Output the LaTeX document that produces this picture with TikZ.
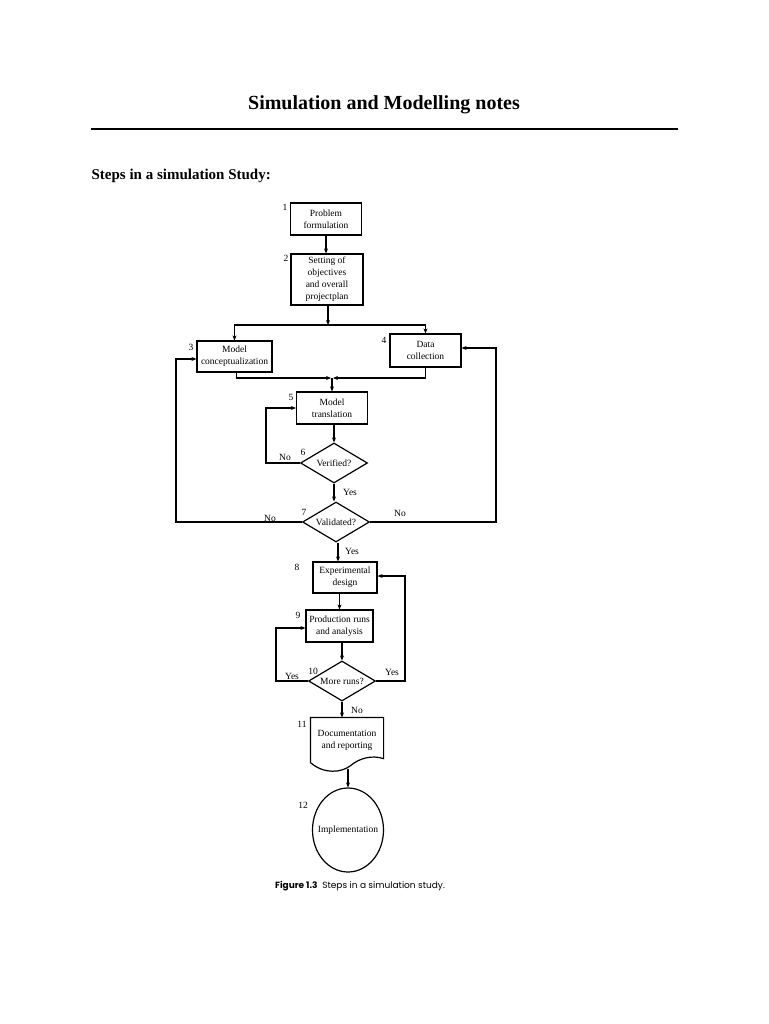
\documentclass[tikz,border=0pt]{standalone}
\usepackage{fontspec}
\setmainfont{Liberation Serif}
\newfontfamily\capfont{Poppins}
\usetikzlibrary{shapes.geometric,arrows.meta,calc}
\begin{document}
\begin{tikzpicture}[x=1pt,y=-1pt,
  line width=1.2pt,
  box/.style={draw,rectangle,inner sep=1pt,align=center,font=\fontsize{9.5}{12}\selectfont},
  dia/.style={draw,diamond,aspect=1.67,inner sep=0pt,minimum width=67pt,minimum height=40pt,font=\fontsize{9.5}{12}\selectfont},
  num/.style={font=\fontsize{9.5}{10}\selectfont,inner sep=0pt},
  lab/.style={font=\fontsize{9.5}{10}\selectfont,inner sep=0pt},
  arr/.style={-{Stealth[length=5pt,width=4pt]}}]
\useasboundingbox (0,0) rectangle (768,1024);
\fill[white] (0,0) rectangle (768,1024);
% header
\node[font=\fontsize{20}{22}\selectfont\bfseries] (title) at (384,105) {Simulation and Modelling notes};
\coordinate (rl) at (91,129);
\coordinate (rr) at (678,129);
\draw[line width=1.2pt] (rl) -- (rr);
\node[font=\fontsize{15}{17}\selectfont\bfseries,anchor=west,inner sep=0pt] (sub) at (91,176) {Steps in a simulation Study:};
% boxes
\node[box,minimum width=71pt,minimum height=32pt] (b1) at (326,219) {Problem\\formulation};
\node[box,minimum width=72pt,minimum height=51pt] (b2) at (327,279.5) {Setting of\\objectives\\and overall\\projectplan};
\node[box,minimum width=75pt,minimum height=31pt] (b3) at (234.5,356.5) {Model\\conceptualization};
\node[box,minimum width=71pt,minimum height=33pt] (b4) at (425.5,350.5) {Data\\collection};
\node[box,minimum width=71pt,minimum height=32pt] (b5) at (332,408) {Model\\translation};
\node[dia] (d6) at (334,463) {Verified?};
\node[dia] (d7) at (336,522) {Validated?};
\node[box,minimum width=64pt,minimum height=31pt] (b8) at (345,577.5) {Experimental\\design};
\node[box,minimum width=67pt,minimum height=32pt] (b9) at (339.5,626) {Production runs\\and analysis};
\node[dia] (d10) at (342,681) {More runs?};
\node[box,draw=none,minimum width=72pt,minimum height=44pt] (d11) at (347,740) {Documentation\\and reporting};
\draw (d11.south west) -- (d11.north west) -- (d11.north east) -- ($(d11.south east)+(0,-4)$)
  .. controls ($(d11.south east)+(-12,-8)$) and ($(d11.south east)+(-25,-4)$) .. ($(d11.south east)+(-33,3)$)
  .. controls ($(d11.south east)+(-42,10)$) and ($(d11.south west)+(14,12)$) .. (d11.south west);
\node[draw,ellipse,minimum width=71pt,minimum height=84pt,inner sep=0pt] (c12) at (348,830) {};
\node[font=\fontsize{9.5}{12}\selectfont,inner sep=0pt] (t12) at (c12.center) {Implementation};
% numbers
\node[num] (n1) at (285,207) {1};
\node[num] (n2) at (286,258) {2};
\node[num] (n3) at (191,347) {3};
\node[num] (n4) at (384,340) {4};
\node[num] (n5) at (291,397) {5};
\node[num] (n6) at (303,452) {6};
\node[num] (n7) at (304,512) {7};
\node[num] (n8) at (297,567) {8};
\node[num] (n9) at (298,615) {9};
\node[num] (n10) at (313,671) {10};
\node[num] (n11) at (302,724) {11};
\node[num] (n12) at (303,805) {12};
% connectors
\draw[arr] (b1.south) -- (b1.south |- b2.north);
\coordinate (j1) at (328,325);
\draw[arr] (b2.south -| j1) -- (j1);
\draw[arr] (j1) -| (b3.north);
\draw[arr] (j1) -| (b4.north);
\coordinate (j2) at (332,378);
\draw[arr] ([xshift=2pt]b3.south) |- ([xshift=-1pt]j2);
\draw[arr] (b4.south) |- ([xshift=1pt]j2);
\draw[arr] (j2) -- (b5.north);
\draw[arr] (b5.south -| d6.north) -- (d6.north);
\coordinate (l6) at (266,408);
\draw[arr] (d6.west) -| (l6) -- (b5.west);
\node[lab] (no6) at (285,457) {No};
\draw[arr] (d6.south) -- (d6.south |- d7.north);
\node[lab] (yes6) at (350,492) {Yes};
\coordinate (l7) at (176,359);
\draw[arr] (d7.west) -| (l7) -- (l7 -| b3.west);
\node[lab] (no7l) at (270,518) {No};
\coordinate (r7) at (496,348);
\draw[arr] (d7.east) -| (r7) -- (r7 -| b4.east);
\node[lab] (no7r) at (400,513) {No};
\draw[arr] ([xshift=2pt]d7.south) -- ([xshift=2pt]d7.south |- b8.north);
\node[lab] (yes7) at (352,551) {Yes};
\draw[arr] (b9.north |- b8.south) -- (b9.north);
\draw[arr] (d10.north |- b9.south) -- (d10.north);
\coordinate (l10) at (276,628);
\draw[arr] (d10.west) -| (l10) -- (l10 -| b9.west);
\node[lab] (yes10l) at (292,676) {Yes};
\coordinate (r10) at (405,576);
\draw[arr] (d10.east) -| (r10) -- (r10 -| b8.east);
\node[lab] (yes10r) at (392,672) {Yes};
\draw[arr] (d10.south) -- (d10.south |- d11.north);
\node[lab] (no10) at (357,710) {No};
\draw[arr] ($(d11.south -| c12.north)+(0,6)$) -- (c12.north);
% caption
\node[font=\capfont\fontsize{9}{11}\selectfont,inner sep=0pt] (cap) at (360,886) {\textbf{Figure 1.3}\ \ Steps in a simulation study.};
\end{tikzpicture}
\end{document}
